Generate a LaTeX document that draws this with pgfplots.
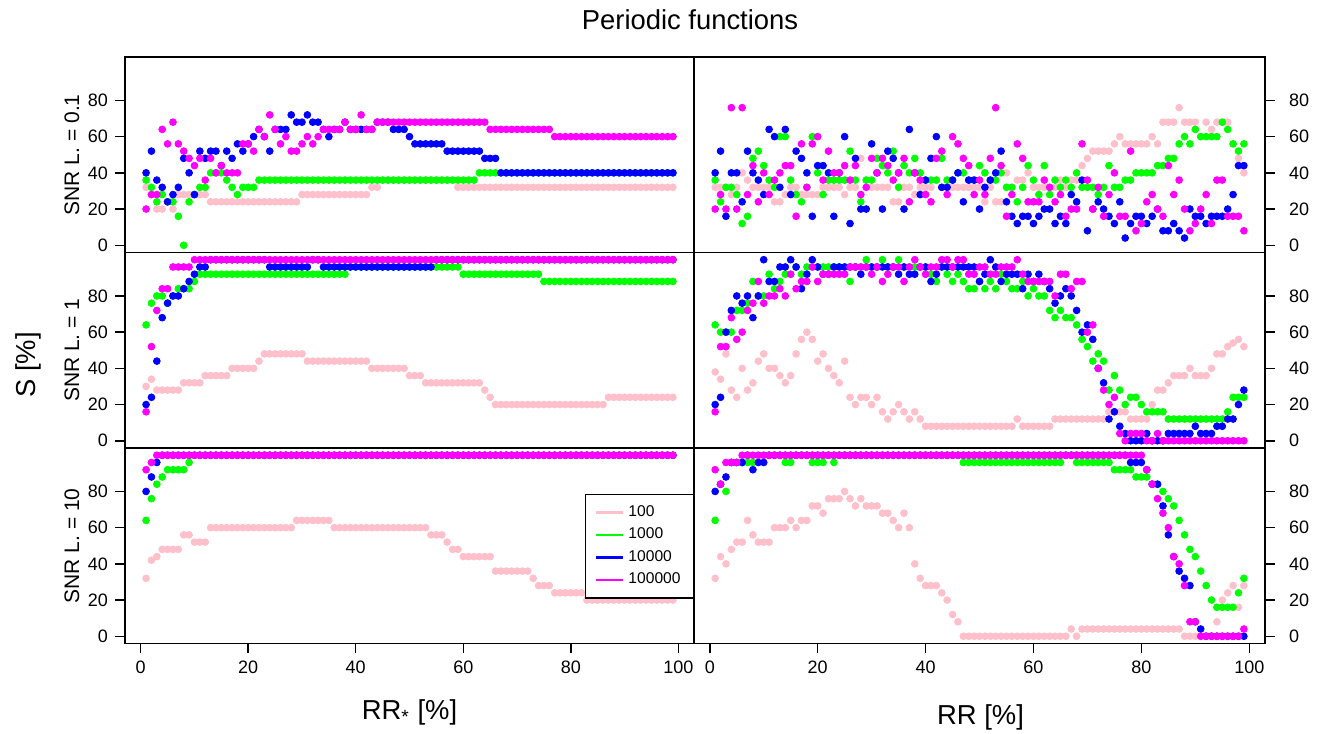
\documentclass[border=0pt]{standalone}
\usepackage{fontspec}
\setmainfont{Liberation Sans}
\usepackage{pgfplots}
\pgfplotsset{compat=1.18}
\usepackage{pgfplotstable}
\definecolor{rpink}{HTML}{FFC0CB}
\definecolor{rgreen}{HTML}{00FF00}
\definecolor{rblue}{HTML}{0000FF}
\definecolor{rmagenta}{HTML}{FF00FF}

% columns: x, then S [%] for 100, 1000, 10000, 100000
\pgfplotstableread{
x p g b m
1 32 36 40 20
2 28 32 52 28
3 20 24 36 28
4 20 28 32 64
5 24 24 24 56
6 20 24 28 68
7 28 16 32 56
8 28 0 48 52
9 28 24 40 48
10 28 28 28 44
11 28 32 52 48
12 28 32 48 36
13 24 40 52 48
14 24 40 52 40
15 24 40 44 44
16 24 36 52 40
17 24 32 48 40
18 24 28 56 40
19 24 32 52 56
20 24 32 56 56
21 24 32 60 52
22 24 36 64 64
23 24 36 60 60
24 24 36 52 72
25 24 36 64 64
26 24 36 64 56
27 24 36 64 60
28 24 36 72 52
29 24 36 68 52
30 28 36 68 56
31 28 36 72 60
32 28 36 68 56
33 28 36 68 60
34 28 36 64 64
35 28 36 60 64
36 28 36 64 64
37 28 36 64 64
38 28 36 68 68
39 28 36 64 64
40 28 36 64 64
41 28 36 64 72
42 28 36 64 64
43 32 36 64 64
44 32 36 68 68
45 36 36 68 68
46 36 36 68 68
47 36 36 64 68
48 36 36 64 68
49 36 36 64 68
50 36 36 60 68
51 36 36 56 68
52 36 36 56 68
53 36 36 56 68
54 36 36 56 68
55 36 36 56 68
56 36 36 56 68
57 36 36 52 68
58 36 36 52 68
59 32 36 52 68
60 32 36 52 68
61 32 36 52 68
62 32 36 52 68
63 32 40 52 68
64 32 40 48 68
65 32 40 48 64
66 32 40 48 64
67 32 40 40 64
68 32 40 40 64
69 32 40 40 64
70 32 40 40 64
71 32 40 40 64
72 32 40 40 64
73 32 40 40 64
74 32 40 40 64
75 32 40 40 64
76 32 40 40 64
77 32 40 40 60
78 32 40 40 60
79 32 40 40 60
80 32 40 40 60
81 32 40 40 60
82 32 40 40 60
83 32 40 40 60
84 32 40 40 60
85 32 40 40 60
86 32 40 40 60
87 32 40 40 60
88 32 40 40 60
89 32 40 40 60
90 32 40 40 60
91 32 40 40 60
92 32 40 40 60
93 32 40 40 60
94 32 40 40 60
95 32 40 40 60
96 32 40 40 60
97 32 40 40 60
98 32 40 40 60
99 32 40 40 60
}\tl

\pgfplotstableread{
x p g b m
1 32 36 40 20
2 32 24 52 28
3 32 32 16 20
4 28 32 40 76
5 32 28 40 20
6 40 12 24 76
7 36 16 52 28
8 32 48 40 44
9 32 52 36 24
10 32 44 28 40
11 32 36 64 28
12 24 32 60 36
13 24 60 32 40
14 28 60 64 44
15 32 36 28 44
16 32 28 52 16
17 28 24 48 56
18 28 32 40 32
19 28 60 16 56
20 28 40 44 60
21 32 28 44 36
22 32 36 40 52
23 32 36 16 40
24 32 36 40 40
25 28 36 60 44
26 32 52 12 36
27 32 36 48 44
28 48 24 20 28
29 36 36 20 32
30 32 36 56 48
31 32 48 40 40
32 32 44 20 48
33 32 40 52 44
34 24 52 48 36
35 24 32 40 40
36 32 44 20 48
37 32 40 64 24
38 28 48 40 40
39 32 40 28 36
40 32 36 36 28
41 32 36 48 24
42 36 36 60 48
43 32 48 32 52
44 36 36 32 28
45 32 36 36 60
46 32 40 40 56
47 32 40 24 48
48 32 36 36 44
49 32 36 36 28
50 32 44 20 36
51 24 40 32 28
52 32 36 36 48
53 24 36 40 76
54 24 40 52 44
55 40 32 24 16
56 32 32 16 28
57 36 24 12 56
58 36 32 16 48
59 40 44 16 24
60 32 36 12 24
61 32 28 16 24
62 32 44 20 36
63 32 28 20 32
64 32 36 12 24
65 36 32 16 28
66 32 36 12 16
67 36 32 28 20
68 36 40 24 20
69 44 32 36 56
70 48 32 8 36
71 52 32 20 20
72 52 28 24 32
73 52 32 20 16
74 52 44 16 28
75 56 32 12 40
76 60 32 24 16
77 56 36 4 16
78 56 36 12 52
79 56 40 16 8
80 56 40 16 12
81 56 40 12 24
82 60 40 16 28
83 56 44 20 20
84 68 44 8 16
85 68 48 8 44
86 68 48 12 28
87 76 56 8 36
88 68 60 4 20
89 68 56 20 8
90 68 64 16 12
91 60 60 16 20
92 68 60 12 28
93 64 60 16 12
94 68 60 16 36
95 68 68 16 36
96 68 64 20 16
97 56 56 28 16
98 48 52 44 16
99 40 56 44 8
}\tr

\pgfplotstableread{
x p g b m
1 30 64 20 16
2 34 76 24 52
3 28 80 44 72
4 28 80 68 84
5 28 76 76 84
6 28 80 80 96
7 28 84 80 96
8 32 84 84 96
9 32 84 88 96
10 32 88 92 100
11 32 92 96 100
12 36 92 96 100
13 36 92 100 100
14 36 92 100 100
15 36 92 100 100
16 36 92 100 100
17 40 92 100 100
18 40 92 100 100
19 40 92 100 100
20 40 92 100 100
21 40 92 100 100
22 44 92 100 100
23 48 92 100 100
24 48 92 96 100
25 48 92 96 100
26 48 92 96 100
27 48 92 96 100
28 48 92 96 100
29 48 92 96 100
30 48 92 96 100
31 44 92 96 100
32 44 92 100 100
33 44 92 100 100
34 44 92 96 100
35 44 92 96 100
36 44 92 96 100
37 44 92 96 100
38 44 92 96 100
39 44 96 96 100
40 44 96 96 100
41 44 96 96 100
42 44 96 96 100
43 40 96 96 100
44 40 96 96 100
45 40 96 96 100
46 40 96 96 100
47 40 96 96 100
48 40 96 96 100
49 40 96 96 100
50 36 96 96 100
51 36 96 96 100
52 36 96 96 100
53 32 96 96 100
54 32 96 96 100
55 32 96 100 100
56 32 96 100 100
57 32 96 100 100
58 32 96 100 100
59 32 96 100 100
60 32 92 100 100
61 32 92 100 100
62 32 92 100 100
63 32 92 100 100
64 28 92 100 100
65 24 92 100 100
66 20 92 100 100
67 20 92 100 100
68 20 92 100 100
69 20 92 100 100
70 20 92 100 100
71 20 92 100 100
72 20 92 100 100
73 20 92 100 100
74 20 92 100 100
75 20 88 100 100
76 20 88 100 100
77 20 88 100 100
78 20 88 100 100
79 20 88 100 100
80 20 88 100 100
81 20 88 100 100
82 20 88 100 100
83 20 88 100 100
84 20 88 100 100
85 20 88 100 100
86 20 88 100 100
87 24 88 100 100
88 24 88 100 100
89 24 88 100 100
90 24 88 100 100
91 24 88 100 100
92 24 88 100 100
93 24 88 100 100
94 24 88 100 100
95 24 88 100 100
96 24 88 100 100
97 24 88 100 100
98 24 88 100 100
99 24 88 100 100
}\ml

\pgfplotstableread{
x p g b m
1 38 64 20 16
2 34 60 24 52
3 48 60 60 52
4 28 60 72 68
5 24 72 80 56
6 40 72 76 60
7 28 76 80 72
8 32 88 68 76
9 44 80 80 88
10 48 80 100 76
11 40 92 88 80
12 40 84 88 80
13 36 88 96 84
14 32 92 96 80
15 36 92 100 92
16 48 96 96 84
17 56 92 84 88
18 60 96 92 88
19 56 96 100 96
20 44 96 96 88
21 48 96 92 92
22 40 96 92 92
23 36 96 96 92
24 32 96 96 92
25 44 96 96 92
26 24 88 96 96
27 20 96 96 96
28 24 96 92 96
29 24 100 96 96
30 20 96 96 92
31 24 96 96 96
32 16 100 96 88
33 12 96 96 92
34 16 96 96 96
35 20 100 92 96
36 16 96 96 88
37 12 96 92 96
38 16 96 92 100
39 12 96 96 96
40 8 96 96 92
41 8 92 88 96
42 8 88 92 96
43 8 96 96 100
44 8 92 96 100
45 8 88 96 96
46 8 92 96 100
47 8 88 96 100
48 8 84 96 92
49 8 84 96 92
50 8 88 88 96
51 8 84 92 96
52 8 88 100 92
53 8 84 96 92
54 8 92 88 96
55 8 88 92 96
56 8 84 92 96
57 12 84 92 100
58 8 88 84 92
59 8 80 92 88
60 8 84 88 88
61 8 80 92 88
62 8 80 88 88
63 8 72 84 88
64 12 68 76 80
65 12 72 80 92
66 12 68 84 92
67 12 68 80 84
68 12 64 72 88
69 12 56 60 88
70 12 52 64 60
71 12 44 56 64
72 12 48 40 40
73 12 44 32 28
74 16 28 12 20
75 16 36 16 24
76 16 28 8 4
77 16 20 4 0
78 12 24 0 4
79 12 24 0 4
80 12 20 0 4
81 12 16 4 0
82 20 16 0 0
83 28 16 0 4
84 28 16 0 0
85 32 12 4 0
86 36 12 4 0
87 36 12 4 0
88 36 12 4 0
89 40 12 4 0
90 36 12 8 0
91 36 12 4 0
92 36 12 4 0
93 40 12 4 0
94 48 12 8 0
95 48 12 8 0
96 52 16 12 0
97 54 24 12 0
98 56 24 20 0
99 52 24 28 0
}\mr

\pgfplotstableread{
x p g b m
1 32 64 80 92
2 42 76 88 96
3 44 84 96 100
4 48 88 100 100
5 48 92 100 100
6 48 92 100 100
7 48 92 100 100
8 56 92 100 100
9 56 96 100 100
10 52 100 100 100
11 52 100 100 100
12 52 100 100 100
13 60 100 100 100
14 60 100 100 100
15 60 100 100 100
16 60 100 100 100
17 60 100 100 100
18 60 100 100 100
19 60 100 100 100
20 60 100 100 100
21 60 100 100 100
22 60 100 100 100
23 60 100 100 100
24 60 100 100 100
25 60 100 100 100
26 60 100 100 100
27 60 100 100 100
28 60 100 100 100
29 64 100 100 100
30 64 100 100 100
31 64 100 100 100
32 64 100 100 100
33 64 100 100 100
34 64 100 100 100
35 64 100 100 100
36 60 100 100 100
37 60 100 100 100
38 60 100 100 100
39 60 100 100 100
40 60 100 100 100
41 60 100 100 100
42 60 100 100 100
43 60 100 100 100
44 60 100 100 100
45 60 100 100 100
46 60 100 100 100
47 60 100 100 100
48 60 100 100 100
49 60 100 100 100
50 60 100 100 100
51 60 100 100 100
52 60 100 100 100
53 60 100 100 100
54 56 100 100 100
55 56 100 100 100
56 56 100 100 100
57 52 100 100 100
58 48 100 100 100
59 48 100 100 100
60 44 100 100 100
61 44 100 100 100
62 44 100 100 100
63 44 100 100 100
64 44 100 100 100
65 44 100 100 100
66 36 100 100 100
67 36 100 100 100
68 36 100 100 100
69 36 100 100 100
70 36 100 100 100
71 36 100 100 100
72 36 100 100 100
73 32 100 100 100
74 28 100 100 100
75 28 100 100 100
76 28 100 100 100
77 24 100 100 100
78 24 100 100 100
79 24 100 100 100
80 24 100 100 100
81 24 100 100 100
82 24 100 100 100
83 20 100 100 100
84 20 100 100 100
85 20 100 100 100
86 20 100 100 100
87 20 100 100 100
88 20 100 100 100
89 20 100 100 100
90 20 100 100 100
91 20 100 100 100
92 20 100 100 100
93 20 100 100 100
94 20 100 100 100
95 20 100 100 100
96 20 100 100 100
97 20 100 100 100
98 20 100 100 100
99 20 100 100 100
}\bl

\pgfplotstableread{
x p g b m
1 32 64 80 92
2 44 84 84 84
3 40 80 88 96
4 48 96 96 96
5 52 96 96 96
6 52 96 96 100
7 64 96 100 100
8 56 96 92 100
9 52 100 96 100
10 52 100 96 100
11 52 100 100 100
12 60 100 100 100
13 60 100 100 100
14 60 96 100 100
15 64 96 100 100
16 60 100 100 100
17 64 100 100 100
18 64 100 100 100
19 72 96 100 100
20 72 96 100 100
21 68 96 100 100
22 76 100 100 100
23 76 96 100 100
24 76 100 100 100
25 80 100 100 100
26 76 100 100 100
27 72 100 100 100
28 76 100 100 100
29 72 100 100 100
30 72 100 100 100
31 72 100 100 100
32 68 100 100 100
33 68 100 100 100
34 64 100 100 100
35 60 100 100 100
36 68 100 100 100
37 60 100 100 100
38 40 100 100 100
39 32 100 100 100
40 28 100 100 100
41 28 100 100 100
42 28 100 100 100
43 24 100 100 100
44 20 100 100 100
45 12 100 100 100
46 8 100 100 100
47 0 96 100 100
48 0 96 100 100
49 0 96 100 100
50 0 96 100 100
51 0 96 100 100
52 0 96 100 100
53 0 96 100 100
54 0 96 100 100
55 0 96 100 100
56 0 96 100 100
57 0 96 100 100
58 0 96 100 100
59 0 96 100 100
60 0 96 100 100
61 0 96 100 100
62 0 96 100 100
63 0 96 100 100
64 0 96 100 100
65 0 96 100 100
66 0 100 100 100
67 4 100 100 100
68 0 96 100 100
69 4 96 100 100
70 4 96 100 100
71 4 96 100 100
72 4 96 100 100
73 4 96 100 100
74 4 96 100 100
75 4 92 100 100
76 4 92 100 100
77 4 92 100 100
78 4 92 96 100
79 4 88 96 100
80 4 88 96 100
81 4 88 92 92
82 4 84 84 84
83 4 84 84 76
84 4 80 72 68
85 4 76 56 60
86 4 72 44 44
87 4 64 36 40
88 0 56 32 28
89 0 48 28 8
90 0 44 8 8
91 0 36 4 0
92 0 28 0 0
93 0 20 0 0
94 8 16 0 0
95 20 16 0 0
96 24 16 0 0
97 28 16 0 0
98 16 24 0 0
99 28 32 0 4
}\br

\pgfplotsset{
  panel/.style={
    scale only axis, height=97.75pt,
    xmin=-2.92, xmax=102.92, ymin=-4, ymax=104,
    ytick={0,20,40,60,80},
    tick align=outside, major tick length=5pt,
    axis line style={line width=0.75pt},
    every tick/.style={black, line width=0.75pt},
    tick label style={font=\fontsize{9}{10}\selectfont},
    /pgf/number format/assume math mode=true,
    clip=false,
  },
  leftcol/.style={panel, width=284.5pt, ytick pos=left},
  rightcol/.style={panel, width=285.5pt, ytick pos=right, yticklabel pos=right,
    yticklabel style={xshift=3.5pt}},
  notop/.style={xtick=\empty},
  bottom/.style={xtick={0,20,40,60,80,100}, xtick pos=left},
  pts/.style={only marks, mark=*, mark size=1.7pt, color=#1, mark options={draw=none}},
}

\newcommand{\fourseries}[1]{%
  \addplot[pts=rpink, forget plot] table[x=x, y=p] {#1};
  \addplot[pts=rgreen, forget plot] table[x=x, y=g] {#1};
  \addplot[pts=rblue, forget plot] table[x=x, y=b] {#1};
  \addplot[pts=rmagenta, forget plot] table[x=x, y=m] {#1};
}

\begin{document}
\begin{tikzpicture}
\path[use as bounding box] (0pt,0pt) rectangle (660pt,366.5pt);

\begin{axis}[leftcol, notop, at={(62.5pt,240.25pt)}, anchor=south west]
\fourseries{\tl}
\end{axis}
\begin{axis}[rightcol, notop, at={(347pt,240.25pt)}, anchor=south west]
\fourseries{\tr}
\end{axis}
\begin{axis}[leftcol, notop, at={(62.5pt,142.5pt)}, anchor=south west]
\fourseries{\ml}
\end{axis}
\begin{axis}[rightcol, notop, at={(347pt,142.5pt)}, anchor=south west]
\fourseries{\mr}
\end{axis}
\begin{axis}[leftcol, bottom, at={(62.5pt,44.75pt)}, anchor=south west,
  legend style={at={(1.002,0.765)}, anchor=north east, draw=black, line width=0.6pt,
    font=\fontsize{7.8}{8.8}\selectfont, row sep=0.3pt, inner xsep=5pt, inner ysep=3.5pt},
  legend cell align=left,
  legend image code/.code={\draw[#1, line width=1.1pt] (0pt,0pt) -- (13.5pt,0pt);}]
\fourseries{\bl}
\addlegendimage{color=rpink}
\addlegendimage{color=rgreen}
\addlegendimage{color=rblue}
\addlegendimage{color=rmagenta}
\legend{100,1000,10000,100000}
\end{axis}
\begin{axis}[rightcol, bottom, at={(347pt,44.75pt)}, anchor=south west]
\fourseries{\br}
\end{axis}

\node[font=\fontsize{13.7}{16}\selectfont] at (345pt,356.5pt) {Periodic functions};
\node[rotate=90, font=\fontsize{13.7}{16}\selectfont] at (14pt,184pt) {S [\%]};
\node[rotate=90, font=\fontsize{10.5}{12}\selectfont] at (36pt,289.1pt) {SNR L. = 0.1};
\node[rotate=90, font=\fontsize{10.5}{12}\selectfont] at (36pt,191.4pt) {SNR L. = 1};
\node[rotate=90, font=\fontsize{10.5}{12}\selectfont] at (36pt,93.6pt) {SNR L. = 10};
\node[font=\fontsize{13.7}{16}\selectfont] at (204.75pt,10.5pt) {RR\textsubscript{*} [\%]};
\node[font=\fontsize{13.7}{16}\selectfont] at (490.25pt,8pt) {RR [\%]};
\end{tikzpicture}
\end{document}
